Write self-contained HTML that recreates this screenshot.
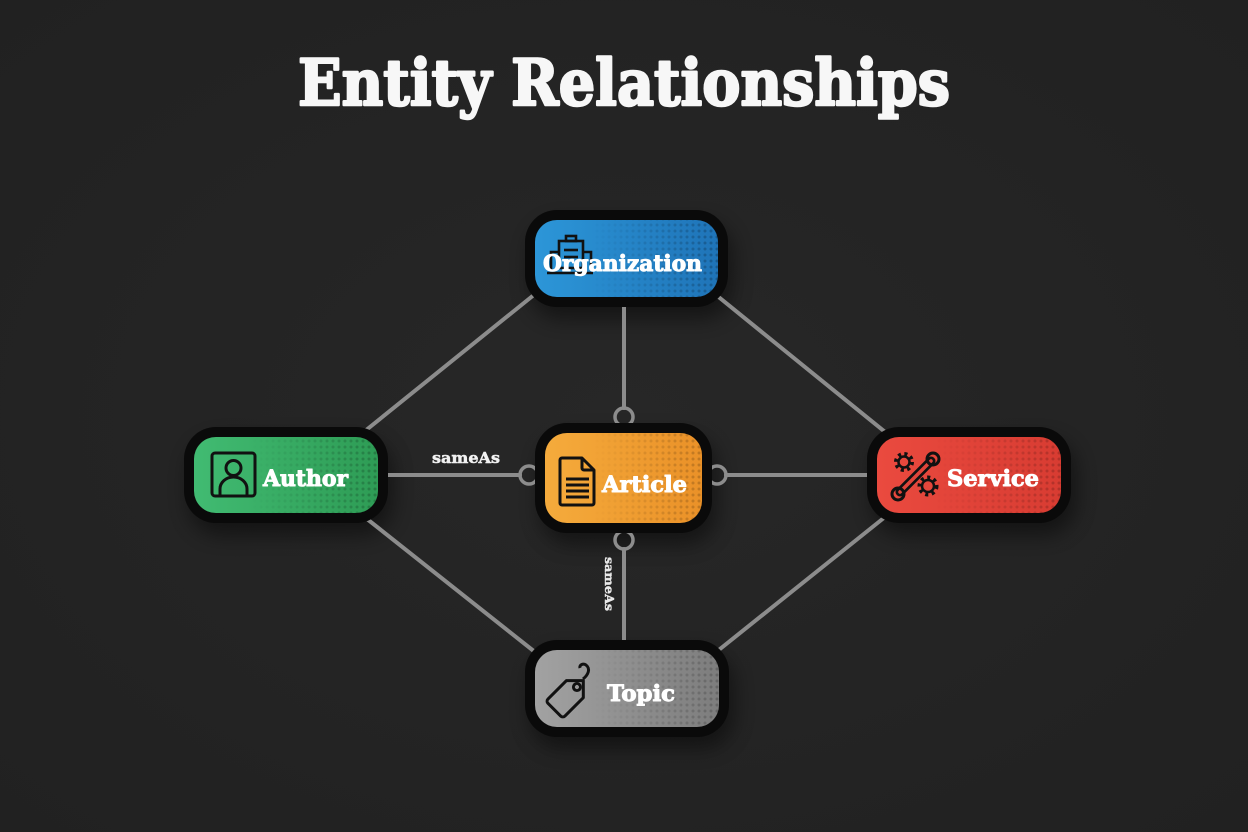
<!DOCTYPE html>
<html><head><meta charset="utf-8"><style>
html,body{margin:0;padding:0;background:#242424;}
svg{display:block;}
</style></head><body>
<svg width="1248" height="832" viewBox="0 0 1248 832" xmlns="http://www.w3.org/2000/svg">
<defs>
  <radialGradient id="bg" cx="50%" cy="50%" r="70%">
    <stop offset="0" stop-color="#272727"/>
    <stop offset="1" stop-color="#212121"/>
  </radialGradient>
  <pattern id="dots" width="6" height="6" patternUnits="userSpaceOnUse">
    <circle cx="3" cy="3" r="1.5" fill="#000"/>
  </pattern>
  <linearGradient id="fadeR" x1="0" y1="0" x2="1" y2="0">
    <stop offset="0.3" stop-color="#fff" stop-opacity="0"/>
    <stop offset="1" stop-color="#fff" stop-opacity="1"/>
  </linearGradient>
  <mask id="m" maskContentUnits="objectBoundingBox">
    <rect x="0" y="0" width="1" height="1" fill="url(#fadeR)"/>
  </mask>
  <linearGradient id="gOrg" x1="0" y1="0" x2="1" y2="0"><stop offset="0" stop-color="#2c96d8"/><stop offset="1" stop-color="#1f74b8"/></linearGradient>
  <linearGradient id="gAut" x1="0" y1="0" x2="1" y2="0"><stop offset="0" stop-color="#41bb72"/><stop offset="1" stop-color="#2e9c55"/></linearGradient>
  <linearGradient id="gArt" x1="0" y1="0" x2="1" y2="0"><stop offset="0" stop-color="#f5ab3c"/><stop offset="1" stop-color="#ea9128"/></linearGradient>
  <linearGradient id="gSer" x1="0" y1="0" x2="1" y2="0"><stop offset="0" stop-color="#ea4a3f"/><stop offset="1" stop-color="#d83c32"/></linearGradient>
  <linearGradient id="gTop" x1="0" y1="0" x2="1" y2="0"><stop offset="0" stop-color="#a2a2a2"/><stop offset="1" stop-color="#7d7d7d"/></linearGradient>
  <filter id="sh" x="-30%" y="-30%" width="160%" height="180%">
    <feGaussianBlur stdDeviation="10"/>
  </filter>
</defs>
<rect width="1248" height="832" fill="url(#bg)"/>

<!-- title -->
<text x="298" y="105" textLength="652" lengthAdjust="spacingAndGlyphs" font-family="'DejaVu Serif','Liberation Serif',serif" font-weight="bold" font-size="64" fill="#f7f7f7" stroke="#f7f7f7" stroke-width="2.5" stroke-linejoin="round">Entity Relationships</text>

<!-- shadows -->
<g fill="#000" opacity="0.45" filter="url(#sh)">
  <rect x="530" y="222" width="203" height="97" rx="32"/>
  <rect x="189" y="439" width="204" height="96" rx="32"/>
  <rect x="540" y="435" width="177" height="110" rx="32"/>
  <rect x="872" y="439" width="204" height="96" rx="32"/>
  <rect x="530" y="652" width="204" height="97" rx="32"/>
</g>

<!-- connectors -->
<g stroke="#8c8c8c" stroke-width="4" fill="none" stroke-linecap="round">
  <line x1="540" y1="290" x2="360" y2="435"/>
  <line x1="710" y1="290" x2="890" y2="436"/>
  <line x1="362" y1="515" x2="540" y2="656"/>
  <line x1="890" y1="513" x2="710" y2="657"/>
  <line x1="624" y1="300" x2="624" y2="408"/>
  <line x1="380" y1="475" x2="520" y2="475"/>
  <line x1="726" y1="475" x2="875" y2="475"/>
  <line x1="624" y1="549" x2="624" y2="645"/>
</g>
<g stroke="#8c8c8c" stroke-width="3.5" fill="none">
  <circle cx="624" cy="417" r="9"/>
  <circle cx="529" cy="475" r="9"/>
  <circle cx="717" cy="475" r="9"/>
  <circle cx="624" cy="540" r="9"/>
</g>

<!-- labels on connectors -->
<text x="432" y="463" textLength="68" lengthAdjust="spacingAndGlyphs" font-family="'DejaVu Serif','Liberation Serif',serif" font-weight="bold" font-size="15" fill="#f2f2f2" stroke="#f2f2f2" stroke-width="0.5">sameAs</text>
<text transform="translate(605,557) rotate(90)" x="0" y="0" textLength="54" lengthAdjust="spacingAndGlyphs" font-family="'DejaVu Serif','Liberation Serif',serif" font-weight="bold" font-size="12" fill="#e8e8e8" stroke="#e8e8e8" stroke-width="0.4">sameAs</text>

<!-- Organization -->
<rect x="525" y="210" width="203" height="97" rx="32" fill="#0a0a0a"/>
<rect x="535" y="220" width="183" height="77" rx="22" fill="url(#gOrg)"/>
<rect x="535" y="220" width="183" height="77" rx="22" fill="url(#dots)" opacity="0.22" mask="url(#m)"/>
<g stroke="#111" stroke-width="2.6" fill="none">
  <rect x="566" y="236" width="10" height="5"/>
  <rect x="559" y="241" width="24" height="27"/>
  <line x1="564" y1="250" x2="578" y2="250"/>
  <line x1="564" y1="257" x2="578" y2="257"/>
  <path d="M559 252 h-8 v18 M583 252 h8 v18"/>
  <line x1="547" y1="273" x2="593" y2="273"/>
</g>
<text x="543" y="271" textLength="159" lengthAdjust="spacingAndGlyphs" font-family="'DejaVu Serif','Liberation Serif',serif" font-weight="bold" font-size="22" fill="#fff" stroke="#fff" stroke-width="1" stroke-linejoin="round">Organization</text>

<!-- Author -->
<rect x="184" y="427" width="204" height="96" rx="32" fill="#0a0a0a"/>
<rect x="194" y="437" width="184" height="76" rx="22" fill="url(#gAut)"/>
<rect x="194" y="437" width="184" height="76" rx="22" fill="url(#dots)" opacity="0.2" mask="url(#m)"/>
<g stroke="#111" stroke-width="3" fill="none">
  <rect x="212" y="453" width="43" height="43" rx="3"/>
  <circle cx="233.5" cy="468" r="7.5"/>
  <path d="M220 495 v-6 a13.5 12 0 0 1 27 0 v6"/>
</g>
<text x="263" y="486" textLength="85" lengthAdjust="spacingAndGlyphs" font-family="'DejaVu Serif','Liberation Serif',serif" font-weight="bold" font-size="22" fill="#fff" stroke="#fff" stroke-width="1" stroke-linejoin="round">Author</text>

<!-- Article -->
<rect x="535" y="423" width="177" height="110" rx="32" fill="#0a0a0a"/>
<rect x="545" y="433" width="157" height="90" rx="22" fill="url(#gArt)"/>
<rect x="545" y="433" width="157" height="90" rx="22" fill="url(#dots)" opacity="0.18" mask="url(#m)"/>
<g stroke="#111" stroke-width="3" fill="none" stroke-linejoin="round">
  <path d="M562 458 h20 l12 12 v33 a2 2 0 0 1 -2 2 h-30 a2 2 0 0 1 -2 -2 v-43 a2 2 0 0 1 2 -2 z"/>
  <path d="M582 458 v10 a2 2 0 0 0 2 2 h10"/>
  <line x1="566" y1="479" x2="589" y2="479"/>
  <line x1="566" y1="485" x2="589" y2="485"/>
  <line x1="566" y1="491" x2="589" y2="491"/>
  <line x1="566" y1="497" x2="589" y2="497"/>
</g>
<text x="602" y="492" textLength="85" lengthAdjust="spacingAndGlyphs" font-family="'DejaVu Serif','Liberation Serif',serif" font-weight="bold" font-size="22" fill="#fff" stroke="#fff" stroke-width="1" stroke-linejoin="round">Article</text>

<!-- Service -->
<rect x="867" y="427" width="204" height="96" rx="32" fill="#0a0a0a"/>
<rect x="877" y="437" width="184" height="76" rx="22" fill="url(#gSer)"/>
<rect x="877" y="437" width="184" height="76" rx="22" fill="url(#dots)" opacity="0.18" mask="url(#m)"/>
<g fill="none" stroke-linecap="round">
  <line x1="900" y1="492" x2="931" y2="461" stroke="#111" stroke-width="9"/>
  <line x1="900" y1="492" x2="931" y2="461" stroke="#e0443a" stroke-width="3.5"/>
  <circle cx="933" cy="459" r="6" stroke="#111" stroke-width="3"/>
  <circle cx="898" cy="494" r="6" stroke="#111" stroke-width="3"/>
  <circle cx="904" cy="462" r="8" stroke="#111" stroke-width="4" stroke-dasharray="3 3.3" stroke-linecap="butt"/>
  <circle cx="904" cy="462" r="5.5" stroke="#111" stroke-width="2.5"/>
  <circle cx="928" cy="486" r="8.5" stroke="#111" stroke-width="4" stroke-dasharray="3 3.5" stroke-linecap="butt"/>
  <circle cx="928" cy="486" r="6" stroke="#111" stroke-width="2.5"/>
</g>
<text x="947" y="486" textLength="92" lengthAdjust="spacingAndGlyphs" font-family="'DejaVu Serif','Liberation Serif',serif" font-weight="bold" font-size="22" fill="#fff" stroke="#fff" stroke-width="1" stroke-linejoin="round">Service</text>

<!-- Topic -->
<rect x="525" y="640" width="204" height="97" rx="32" fill="#0a0a0a"/>
<rect x="535" y="650" width="184" height="77" rx="22" fill="url(#gTop)"/>
<rect x="535" y="650" width="184" height="77" rx="22" fill="url(#dots)" opacity="0.18" mask="url(#m)"/>
<g stroke="#111" stroke-width="3" fill="none" stroke-linejoin="round">
  <g transform="translate(572,692) rotate(-45)">
    <path d="M-22 -12 h26 l12 12 l-12 12 h-26 a3 3 0 0 1 -3 -3 v-18 a3 3 0 0 1 3 -3 z"/>
    <circle cx="7" cy="0" r="3.5"/>
  </g>
  <path d="M583 679 c5 -4 8 -10 3 -14 c-3 -2 -7 0 -6 3"/>
</g>
<text x="607" y="701" textLength="68" lengthAdjust="spacingAndGlyphs" font-family="'DejaVu Serif','Liberation Serif',serif" font-weight="bold" font-size="22" fill="#fff" stroke="#fff" stroke-width="1" stroke-linejoin="round">Topic</text>
</svg>
</body></html>
